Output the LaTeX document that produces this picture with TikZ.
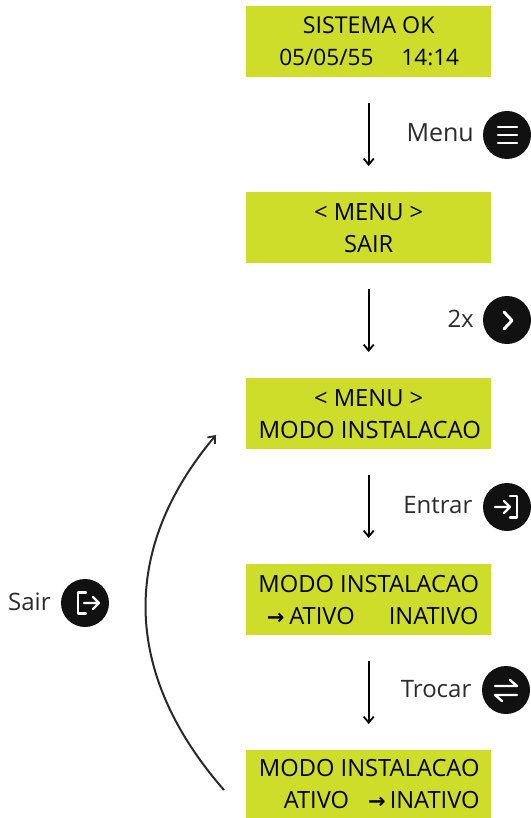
\documentclass[tikz,border=0pt]{standalone}
\usepackage{fontspec}
\setmainfont{Open Sans}
\newfontfamily\arrowfont{DejaVu Sans}
\usetikzlibrary{arrows.meta}
\definecolor{lcd}{HTML}{CEDD2A}
\definecolor{ink}{HTML}{111111}
\definecolor{lbl}{HTML}{2B2B2B}
\tikzset{
  lcdbox/.style={fill=lcd,minimum width=245pt,inner sep=0pt,text=black,align=center,font=\fontsize{23.7}{32}\selectfont,anchor=north west},
  flow/.style={draw=black,line width=2pt,-{Straight Barb[length=6pt,width=10pt,line width=1.8pt]},shorten <=26pt,shorten >=26pt},
  loopline/.style={draw=ink!90,line width=2pt,-{Straight Barb[length=6pt,width=10pt,line width=1.8pt]}},
  badge/.style={circle,fill=ink,minimum size=48pt,inner sep=0pt},
  lab/.style={text=lbl,font=\fontsize{24}{28}\selectfont,inner sep=0pt,anchor=east},
  glyph/.style={draw=white,line width=2.4pt,line cap=round,line join=round}
}
\newcommand{\arr}{{\arrowfont\fontsize{21}{21}\selectfont\bfseries →}}
\begin{document}
\begin{tikzpicture}[x=1pt,y=-1pt]
\useasboundingbox (0,0) rectangle (530,818);
\node[lcdbox,minimum height=71pt] (b1) at (246,6) {\fontsize{23.2}{32}\selectfont SISTEMA OK\\\fontsize{22.6}{32}\selectfont\hspace{1pt}05/05/55\hspace{28pt}14:14};
\node[lcdbox,minimum height=71pt] (b2) at (246,192) {< MENU >\\SAIR};
\node[lcdbox,minimum height=71pt] (b3) at (246,378) {< MENU >\\\fontsize{23.9}{32}\selectfont\hspace{2pt}MODO INSTALACAO};
\node[lcdbox,minimum height=71pt] (b4) at (246,564) {MODO INSTALACAO\\\hspace{8pt}\arr\hspace{5pt}ATIVO\hspace{34pt}INATIVO};
\node[lcdbox,minimum height=68pt] (b5) at (246,750) {\hspace{1pt}MODO INSTALACAO\\\hspace{26pt}ATIVO\hspace{19pt}\arr\hspace{4pt}INATIVO};
\draw[flow] (b1) -- (b2);
\draw[flow] (b2) -- (b3);
\draw[flow] (b3) -- (b4);
\draw[flow] (b4) -- (b5);
\coordinate (cs) at (224,790);
\coordinate (ce) at (216,435);
\draw[loopline] (cs) .. controls (121,672) and (121,548) .. (ce);
\node[badge] (i1) at (507,135) {};
\node[badge] (i2) at (507,320) {};
\node[badge] (i3) at (507,507) {};
\node[badge] (i4) at (506,690) {};
\node[badge] (i5) at (85,603) {};
\node[lab,font=\fontsize{25}{28}\selectfont] (l1) at (474,133) {Menu};
\node[lab] (l2) at (474,319) {2x};
\node[lab] (l3) at (472.5,505) {Entrar};
\node[lab] (l4) at (471.5,689) {Trocar};
\node[lab,anchor=west] (l5) at (8,602) {Sair};
% menu
\draw[glyph] (498,127) -- (517,127) (498,135) -- (517,135) (498,143) -- (517,143);
% chevron
\draw[glyph,line width=3pt] (504,312) -- (512,320.5) -- (504,329);
% entrar
\draw[glyph] (495,507) -- (510,507) (504,501) -- (510,507) -- (504,513);
\draw[glyph] (510,496) -- (517,496) -- (517,517.5) -- (510,517.5);
% trocar
\draw[glyph] (495,686) -- (517,686) -- (510,680);
\draw[glyph] (517,695) -- (495,695) -- (502,701);
% sair
\draw[glyph] (86,592.5) -- (78,592.5) -- (78,613.5) -- (86,613.5);
\draw[glyph] (84,603) -- (99,603) (93,597) -- (99,603) -- (93,609);
\end{tikzpicture}
\end{document}
